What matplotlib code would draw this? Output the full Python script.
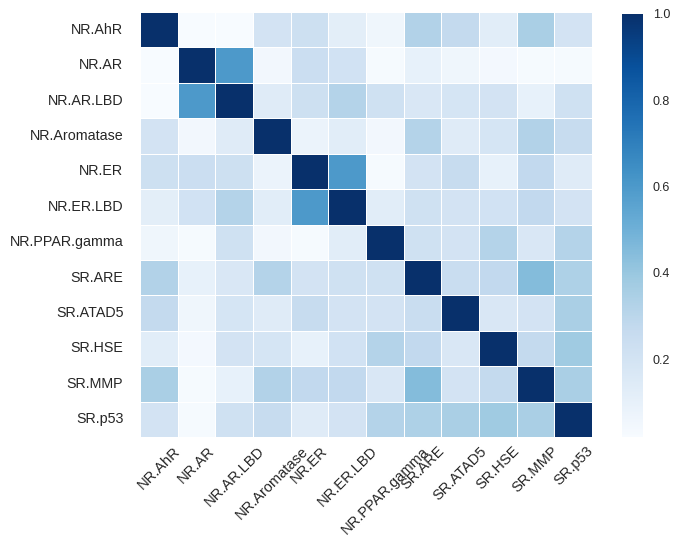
import numpy as np
import pandas as pd
import seaborn as sns
import matplotlib
matplotlib.use("Agg")
import matplotlib.pyplot as plt

sns.set_style("white")
plt.rcParams['font.family'] = ['Liberation Sans', 'DejaVu Sans']

tasks = ['NR.AhR', 'NR.AR', 'NR.AR.LBD', 'NR.Aromatase', 'NR.ER', 'NR.ER.LBD',
         'NR.PPAR.gamma', 'SR.ARE', 'SR.ATAD5', 'SR.HSE', 'SR.MMP', 'SR.p53']

# upper triangle of the correlation matrix (values right of the diagonal), row by row
row_ahr = [0.02, 0.02, 0.20, 0.23, 0.12, 0.06, 0.33, 0.27, 0.13, 0.35, 0.20]
row_ar = [0.60, 0.05, 0.24, 0.21, 0.03, 0.10, 0.06, 0.04, 0.03, 0.03]
row_arlbd = [0.14, 0.23, 0.32, 0.22, 0.17, 0.19, 0.20, 0.10, 0.22]
row_arom = [0.08, 0.13, 0.05, 0.32, 0.14, 0.19, 0.33, 0.26]
row_er = [0.60, 0.03, 0.20, 0.26, 0.10, 0.28, 0.14]
row_erlbd = [0.13, 0.22, 0.20, 0.21, 0.28, 0.20]
row_ppar = [0.22, 0.20, 0.32, 0.17, 0.32]
row_are = [0.25, 0.28, 0.45, 0.34]
row_atad5 = [0.17, 0.20, 0.35]
row_hse = [0.27, 0.38]
row_mmp = [0.35]

rows = [row_ahr, row_ar, row_arlbd, row_arom, row_er, row_erlbd,
        row_ppar, row_are, row_atad5, row_hse, row_mmp]

n = len(tasks)
corr = np.eye(n)
for i, r in enumerate(rows):
    for k, v in enumerate(r):
        j = i + 1 + k
        corr[i, j] = v
        corr[j, i] = v
corr_df = pd.DataFrame(corr, index=tasks, columns=tasks)

fig = plt.figure(figsize=(6.76, 5.46), dpi=100)
ax = fig.add_axes([0.2071, 0.1996, 0.6686, 0.7784])
cax = fig.add_axes([0.920, 0.1996, 0.031, 0.7750])

sns.heatmap(corr_df, cmap='Blues', linewidths=0.6, linecolor='white',
            ax=ax, cbar_ax=cax)

ax.set_xticklabels(tasks, rotation=45, fontsize=10.5, color='.15')
ax.set_yticklabels(tasks, rotation=0, fontsize=10.3, color='.15')
ax.tick_params(length=0)
ax.tick_params(axis='y', pad=12)
ax.tick_params(axis='x', pad=5)
cax.tick_params(labelsize=9, length=0, colors='.15', pad=7)
cax.set_yticks([0.2, 0.4, 0.6, 0.8, 1.0])
for s in cax.spines.values():
    s.set_visible(False)

fig.savefig('out.png', dpi=100)
